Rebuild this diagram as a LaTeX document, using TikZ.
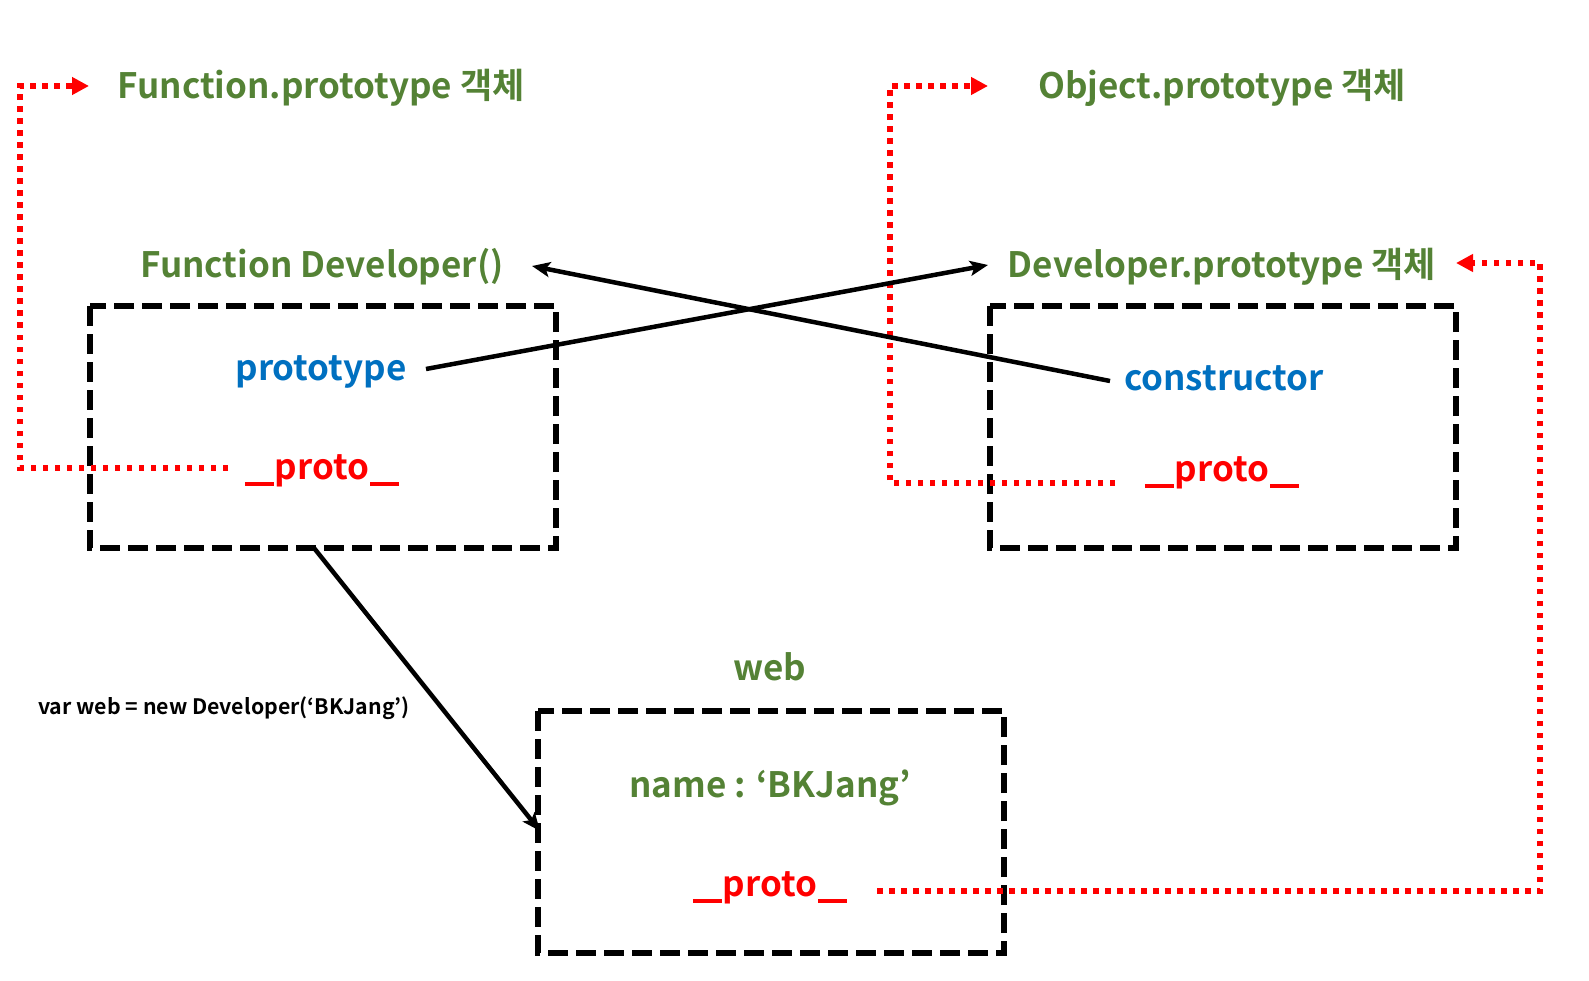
\documentclass[tikz,border=0pt]{standalone}
\usepackage{fontspec}
\setmainfont{Noto Sans CJK KR}[BoldFont={Noto Sans CJK KR Bold}]
\usetikzlibrary{arrows.meta}
\definecolor{tgreen}{HTML}{548235}
\definecolor{tblue}{HTML}{0070C0}
\definecolor{tred}{HTML}{FF0000}
\newcommand\uscore{\rule[-6pt]{29pt}{3.8pt}}
\newcommand\protolbl{\uscore\kern1pt proto\kern1pt\uscore}
\tikzset{
  big/.style={font=\bfseries\fontsize{35}{41}\selectfont, inner sep=0pt},
  small/.style={font=\bfseries\fontsize{21.3}{25}\selectfont, inner sep=0pt},
  grn/.style={big, text=tgreen},
  blu/.style={big, text=tblue},
  rd/.style={big, text=tred},
  dbox/.style={draw=black, line width=6pt, dash pattern=on 20pt off 8pt},
  reddot/.style={draw=tred, line width=5.5pt, dash pattern=on 5.5pt off 6.5pt},
  redtip/.style={-{Triangle[length=17pt,width=17pt,fill=tred]}},
  blk/.style={draw=black, line width=4.5pt, -{Stealth[length=18pt,width=15pt,inset=4pt]}},
}
\begin{document}
\begin{tikzpicture}[x=1pt,y=-1pt]
\useasboundingbox (0,0) rectangle (1589,981);
% boxes
\draw[dbox] (90,306) rectangle (556,548);
\draw[dbox] (990,306) rectangle (1456,548);
\draw[dbox] (538,711) rectangle (1004,953);
\coordinate (box1s) at (314,548);
\coordinate (box3w) at (540,831);
% texts
\node[grn] (fproto) at (321,88) {Function.prototype 객체};
\node[grn] (oproto) at (1222,88) {Object.prototype 객체};
\node[grn] (fdev) at (322,267) {Function Developer()};
\node[grn] (dproto) at (1222,267) {Developer.prototype 객체};
\node[blu] (protoL) at (321,372) {prototype};
\node[blu] (ctor) at (1224,378) {constructor};
\node[rd] (p1) at (322,471) {\protolbl};
\node[rd] (p2) at (1222,473) {\protolbl};
\node[grn] (web) at (770,667) {web};
\node[grn] (name) at (770,788) {name : ‘BKJang’};
\node[rd] (p3) at (770,888) {\protolbl};
\node[small] (newlbl) at (224,708) {var web = new Developer(‘BKJang’)};
% connector ends
\coordinate (p1s) at (228,468);
\coordinate (c1a) at (20,468);
\coordinate (c1b) at (20,86);
\coordinate (fpt) at (89,86);
\coordinate (p2s) at (1115,483);
\coordinate (c2a) at (890,483);
\coordinate (c2b) at (890,86);
\coordinate (opt) at (988,86);
\coordinate (p3s) at (877,891);
\coordinate (c3a) at (1540,891);
\coordinate (c3b) at (1540,263);
\coordinate (dpt) at (1456,263);
\coordinate (prs) at (426,369);
\coordinate (dpe) at (988,265);
\coordinate (cts) at (1110,381);
\coordinate (fde) at (532,266);
% red dotted
\draw[reddot, redtip] (p1s) -- (c1a) -- (c1b) -- (fpt);
\draw[reddot, redtip] (p2s) -- (c2a) -- (c2b) -- (opt);
\draw[reddot, redtip] (p3s) -- (c3a) -- (c3b) -- (dpt);
% black arrows
\draw[blk] (prs) -- (dpe);
\draw[blk] (cts) -- (fde);
\draw[blk] (box1s) -- (box3w);
\end{tikzpicture}
\end{document}
